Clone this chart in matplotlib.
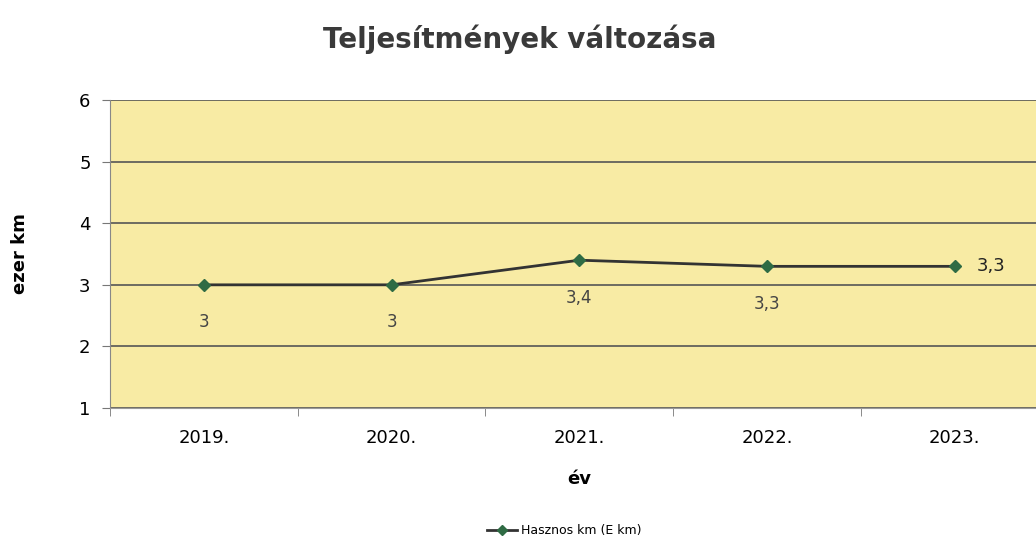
import numpy as np
import matplotlib.pyplot as plt
from matplotlib.ticker import FixedLocator

years = ["2019.", "2020.", "2021.", "2022.", "2023."]
values = [3.0, 3.0, 3.4, 3.3, 3.3]
labels = ["3", "3", "3,4", "3,3", "3,3"]

fig = plt.figure(figsize=(10.36, 5.39), dpi=100)
ax = fig.add_axes([0.1062, 0.243, 0.906, 0.5714])
ax.set_facecolor("#F8EBA4")

x = np.arange(len(years))
ax.plot(x, values, color="#333333", lw=2, marker="D", ms=6,
        markerfacecolor="#2F6B44", markeredgecolor="#2F6B44", label="Hasznos km (E km)", zorder=3)

for i, (v, t) in enumerate(zip(values, labels)):
    if i == len(values) - 1:
        ax.annotate(t, (i, v), xytext=(16, 0), textcoords="offset points",
                    ha="left", va="center", fontsize=13, color="#222222")
    else:
        ax.annotate(t, (i, v), xytext=(0, -27), textcoords="offset points",
                    ha="center", va="center", fontsize=12, color="#444444")

ax.set_xlim(-0.5, len(years) - 0.5)
ax.set_ylim(1, 6)
ax.set_yticks([1, 2, 3, 4, 5, 6])
ax.set_xticks(x)
ax.set_xticklabels(years, fontsize=13)
ax.xaxis.set_minor_locator(FixedLocator(np.arange(-0.5, len(years), 1)))
ax.tick_params(axis="x", which="major", length=0, pad=15)
ax.tick_params(axis="x", which="minor", length=6, color="#777777", direction="out")
ax.tick_params(axis="y", length=6, color="#777777", labelsize=13, pad=8)

ax.grid(axis="y", color="#555555", lw=1.2)
ax.set_axisbelow(True)
for s in ["top", "right"]:
    ax.spines[s].set_visible(False)
ax.spines["left"].set_color("#888888")
ax.spines["bottom"].set_color("#999999")

ax.set_ylabel("ezer km", fontsize=13, fontweight="bold", labelpad=36)
ax.set_xlabel("év", fontsize=13, fontweight="bold", labelpad=17)
fig.suptitle("Teljesítmények változása", fontsize=20, fontweight="bold", color="#3a3a3a", y=0.955, x=0.502)

leg = fig.legend(loc="center", bbox_to_anchor=(0.545, 0.015), frameon=False,
                 fontsize=9, handlelength=2.4, handletextpad=0.3, markerscale=0.8)

fig.savefig("out.png", dpi=100)
